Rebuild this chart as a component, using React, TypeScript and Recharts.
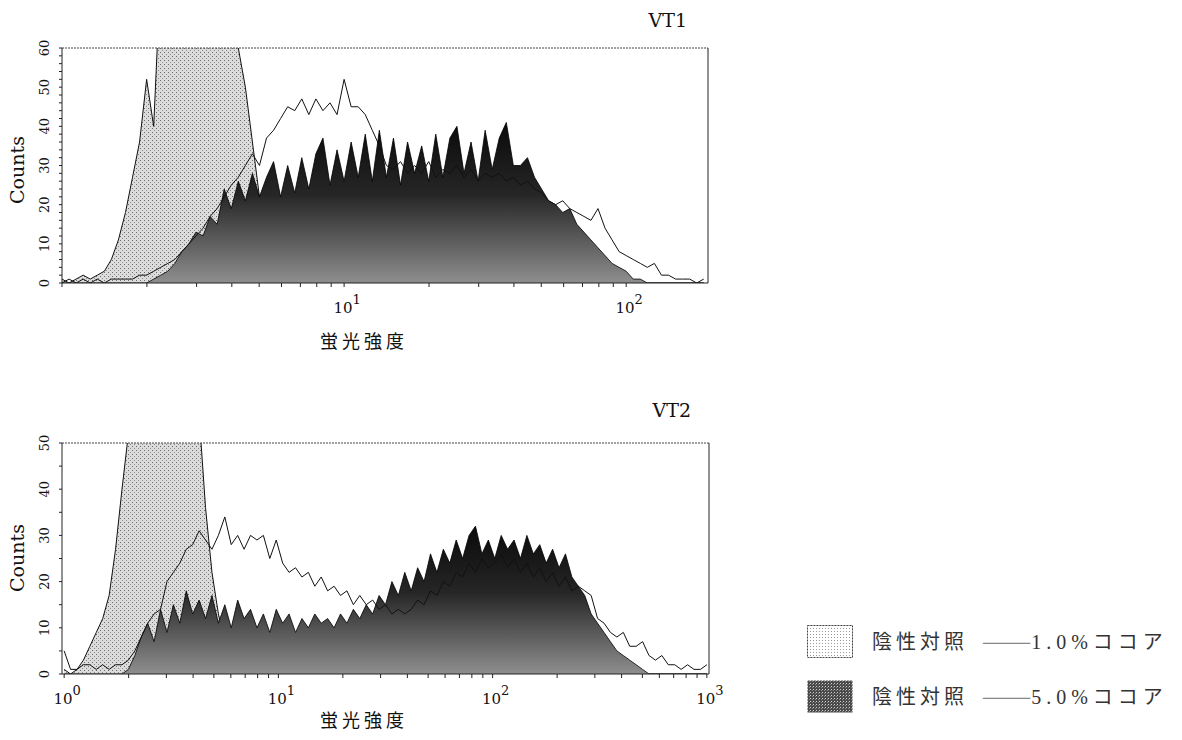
import React from 'react';
import { ComposedChart, Area, Line, XAxis, YAxis, ReferenceLine } from 'recharts';

// ---------- VT1 (log10 of fluorescence intensity per bin) ----------
const vt1Bins = [
  0, 0.025, 0.05, 0.075, 0.1, 0.125, 0.15, 0.175, 0.2, 0.225,
  0.25, 0.275, 0.3, 0.325, 0.35, 0.375, 0.4, 0.425, 0.45, 0.475,
  0.5, 0.525, 0.55, 0.575, 0.6, 0.625, 0.65, 0.675, 0.7, 0.725,
  0.75, 0.775, 0.8, 0.825, 0.85, 0.875, 0.9, 0.925, 0.95, 0.975,
  1, 1.025, 1.05, 1.075, 1.1, 1.125, 1.15, 1.175, 1.2, 1.225,
  1.25, 1.275, 1.3, 1.325, 1.35, 1.375, 1.4, 1.425, 1.45, 1.475,
  1.5, 1.525, 1.55, 1.575, 1.6, 1.625, 1.65, 1.675, 1.7, 1.725,
  1.75, 1.775, 1.8, 1.825, 1.85, 1.875, 1.9, 1.925, 1.95, 1.975,
  2, 2.025, 2.05, 2.075, 2.1, 2.125, 2.15, 2.175, 2.2, 2.225,
  2.25, 2.275,
];
const vt1Control = [
  1, 0, 1, 2, 1, 2, 3, 6, 11, 18,
  27, 36, 52, 40, 80, 88, 95, 101, 104, 100,
  97, 92, 86, 79, 72, 60, 50, 36, 22, 12,
  6, 3, 1, 1, 0, 0, 0, 0, 0, 0,
  0, 0, 0, 0, 0, 0, 0, 0, 0, 0,
  0, 0, 0, 0, 0, 0, 0, 0, 0, 0,
  0, 0, 0, 0, 0, 0, 0, 0, 0, 0,
  0, 0, 0, 0, 0, 0, 0, 0, 0, 0,
  0, 0, 0, 0, 0, 0, 0, 0, 0, 0,
  0, 0,
];
const vt1Cocoa1 = [
  0, 1, 0, 1, 0, 1, 0, 1, 1, 1,
  1, 2, 2, 3, 4, 5, 6, 8, 10, 12,
  14, 17, 19, 22, 25, 27, 30, 33, 30, 37,
  39, 42, 45, 44, 47, 43, 47, 44, 46, 43,
  52, 45, 45, 43, 39, 35, 30, 29, 31, 28,
  30, 28, 31, 27, 29, 28, 30, 27, 29, 26,
  28, 27, 28, 26, 27, 25, 26, 24, 23, 21,
  20, 21, 19, 18, 17, 16, 19, 14, 11, 8,
  7, 6, 5, 4, 5, 2, 2, 1, 1, 1,
  0, 1,
];
const vt1Cocoa5 = [
  0, 0, 0, 0, 0, 0, 0, 0, 0, 0,
  0, 0, 0, 1, 2, 3, 5, 8, 10, 13,
  12, 17, 15, 24, 19, 26, 21, 28, 22, 27,
  31, 22, 30, 23, 32, 24, 33, 37, 25, 34,
  26, 36, 27, 38, 26, 39, 27, 37, 25, 36,
  28, 35, 26, 38, 27, 37, 40, 28, 36, 26,
  39, 29, 37, 41, 30, 30, 32, 27, 24, 21,
  20, 18, 19, 15, 13, 11, 9, 7, 5, 4,
  3, 1, 1, 0, 0, 0, 0, 0, 0, 0,
  0, 0,
];

// ---------- VT2 ----------
const vt2Bins = [
  0, 0.03, 0.06, 0.09, 0.12, 0.15, 0.18, 0.21, 0.24, 0.27,
  0.3, 0.33, 0.36, 0.39, 0.42, 0.45, 0.48, 0.51, 0.54, 0.57,
  0.6, 0.63, 0.66, 0.69, 0.72, 0.75, 0.78, 0.81, 0.84, 0.87,
  0.9, 0.93, 0.96, 0.99, 1.02, 1.05, 1.08, 1.11, 1.14, 1.17,
  1.2, 1.23, 1.26, 1.29, 1.32, 1.35, 1.38, 1.41, 1.44, 1.47,
  1.5, 1.53, 1.56, 1.59, 1.62, 1.65, 1.68, 1.71, 1.74, 1.77,
  1.8, 1.83, 1.86, 1.89, 1.92, 1.95, 1.98, 2.01, 2.04, 2.07,
  2.1, 2.13, 2.16, 2.19, 2.22, 2.25, 2.28, 2.31, 2.34, 2.37,
  2.4, 2.43, 2.46, 2.49, 2.52, 2.55, 2.58, 2.61, 2.64, 2.67,
  2.7, 2.73, 2.76, 2.79, 2.82, 2.85, 2.88, 2.91, 2.94, 2.97,
  3.0,
];
const vt2Control = [
  1, 0, 1, 3, 6, 9, 12, 17, 27, 40,
  52, 70, 85, 95, 100, 102, 98, 94, 88, 80,
  70, 56, 36, 22, 13, 7, 3, 1, 0, 0,
  0, 0, 0, 0, 0, 0, 0, 0, 0, 0,
  0, 0, 0, 0, 0, 0, 0, 0, 0, 0,
  0, 0, 0, 0, 0, 0, 0, 0, 0, 0,
  0, 0, 0, 0, 0, 0, 0, 0, 0, 0,
  0, 0, 0, 0, 0, 0, 0, 0, 0, 0,
  0, 0, 0, 0, 0, 0, 0, 0, 0, 0,
  0, 0, 0, 0, 0, 0, 0, 0, 0, 0,
  0,
];
const vt2Cocoa1 = [
  5, 1, 1, 2, 2, 1, 2, 1, 2, 2,
  3, 5, 8, 11, 13, 14, 20, 22, 24, 27,
  28, 31, 29, 27, 30, 34, 28, 30, 27, 30,
  29, 30, 25, 29, 24, 22, 23, 21, 22, 19,
  21, 18, 19, 17, 18, 15, 17, 15, 16, 14,
  15, 13, 14, 13, 14, 16, 15, 18, 17, 20,
  19, 22, 21, 24, 22, 25, 23, 24, 26, 23,
  25, 22, 24, 21, 23, 20, 22, 19, 21, 18,
  19, 18, 17, 12, 11, 9, 8, 9, 6, 6,
  7, 4, 3, 4, 2, 2, 1, 2, 1, 1,
  2,
];
const vt2Cocoa5 = [
  0, 0, 0, 0, 0, 0, 0, 0, 0, 0,
  1, 4, 8, 11, 7, 14, 9, 15, 11, 18,
  13, 16, 12, 17, 11, 15, 10, 16, 12, 14,
  10, 13, 9, 14, 11, 13, 9, 12, 10, 13,
  11, 12, 10, 13, 11, 14, 12, 15, 13, 17,
  15, 20, 17, 22, 18, 23, 20, 26, 22, 27,
  24, 29, 25, 30, 32, 26, 29, 25, 30, 27,
  29, 25, 30, 26, 28, 24, 27, 23, 26, 21,
  19, 17, 13, 11, 9, 7, 5, 4, 3, 2,
  1, 0, 0, 0, 0, 0, 0, 0, 0, 0,
  0,
];

// ---------- axis ticks ----------
const vt1IntensityTicks = [1, 2, 3, 4, 5, 6, 7, 8, 9, 10, 20, 30, 40, 50, 60, 70, 80, 90, 100];
const vt2IntensityTicks = [
  1, 2, 3, 4, 5, 6, 7, 8, 9, 10, 20, 30, 40, 50, 60, 70, 80, 90,
  100, 200, 300, 400, 500, 600, 700, 800, 900, 1000,
];
const vt1LabelledDecades = [1, 2];
const vt2LabelledDecades = [0, 1, 2, 3];
const vt1CountTicks = [0, 2, 4, 6, 8, 10, 12, 14, 16, 18, 20, 22, 24, 26, 28, 30, 32, 34, 36, 38, 40, 42, 44, 46, 48, 50, 52, 54, 56, 58, 60];
const vt2CountTicks = [0, 5, 10, 15, 20, 25, 30, 35, 40, 45, 50];

const SERIF = "'DejaVu Serif', 'Liberation Serif', serif";
const CJK = "'Noto Sans CJK JP', sans-serif";

const CHART_W = 760;

const buildRows = (bins: number[], control: number[], c1: number[], c5: number[]) =>
  bins.map((x, i) => ({ x, control: control[i], cocoa1: c1[i], cocoa5: c5[i] }));

const vt1Rows = buildRows(vt1Bins, vt1Control, vt1Cocoa1, vt1Cocoa5);
const vt2Rows = buildRows(vt2Bins, vt2Control, vt2Cocoa1, vt2Cocoa5);

const LogTick = (props: any) => {
  const { x, y, payload, decades } = props;
  const v = payload.value;
  const e = Math.round(v);
  if (Math.abs(v - e) > 1e-6 || !decades.includes(e)) return null;
  return (
    <text x={x + 3} y={y + 24} textAnchor="middle" fontFamily={SERIF} fontSize={15} fill="#111">
      <tspan>10</tspan>
      <tspan dy={-9} fontSize={13}>{e}</tspan>
    </text>
  );
};

const CountTick = (props: any) => {
  const { x, y, payload } = props;
  if (payload.value % 10 !== 0) return null;
  return (
    <text
      transform={`translate(${x - 13},${y}) rotate(-90)`}
      textAnchor="middle"
      dominantBaseline="central"
      fontFamily={SERIF}
      fontSize={13}
      fill="#111"
    >
      {payload.value}
    </text>
  );
};

const AxisCaption = (props: any) => {
  const { px, py, caption, vertical, size, spacing, family } = props;
  return (
    <text
      x={px}
      y={py}
      textAnchor="middle"
      dominantBaseline={vertical ? 'central' : 'auto'}
      transform={vertical ? `rotate(-90 ${px} ${py})` : undefined}
      fontFamily={family}
      fontSize={size}
      letterSpacing={spacing}
      fill="#111"
    >
      {caption}
    </text>
  );
};

type PanelProps = {
  id: string;
  rows: any[];
  top: number;
  height: number;
  marginTop: number;
  plotRight: number;
  xAxisHeight: number;
  xDomain: [number, number];
  intensityTicks: number[];
  decades: number[];
  yMax: number;
  countTicks: number[];
  countsY: number;
  xLabelY: number;
};

const Panel = (p: PanelProps) => (
  <div style={{ position: 'absolute', left: 0, top: p.top, width: CHART_W, height: p.height }}>
    <ComposedChart
      width={CHART_W}
      height={p.height}
      data={p.rows}
      margin={{ top: p.marginTop, right: CHART_W - p.plotRight, bottom: 0, left: 0 }}
    >
      <defs>
        <pattern id={`${p.id}Stipple`} width="4" height="4" patternUnits="userSpaceOnUse">
          <rect width="4" height="4" fill="#dcdcdc" />
          <rect x="0" y="0" width="1" height="1" fill="#6a6a6a" />
          <rect x="2" y="2" width="1" height="1" fill="#8a8a8a" />
        </pattern>
        <linearGradient id={`${p.id}Dark`} x1="0" y1="0" x2="0" y2="1">
          <stop offset="0" stopColor="#0a0a0a" />
          <stop offset="0.45" stopColor="#262626" />
          <stop offset="1" stopColor="#8e8e8e" />
        </linearGradient>
      </defs>
      <XAxis
        dataKey="x"
        type="number"
        domain={p.xDomain}
        allowDataOverflow
        ticks={p.intensityTicks.map((v) => Math.log10(v))}
        interval={0}
        tickSize={4}
        tickMargin={2}
        height={p.xAxisHeight}
        stroke="#222"
        tickLine={{ stroke: '#222' }}
        tick={<LogTick decades={p.decades} />}
        label={<AxisCaption px={364} py={p.xLabelY} caption="蛍光強度" size={18} spacing={4} family={CJK} />}
      />
      <YAxis
        type="number"
        domain={[0, p.yMax]}
        allowDataOverflow
        ticks={p.countTicks}
        interval={0}
        width={62}
        tickSize={3}
        tickMargin={2}
        stroke="#222"
        tickLine={{ stroke: '#222' }}
        tick={<CountTick />}
        label={<AxisCaption px={17} py={p.countsY} caption="Counts" vertical size={19} spacing={0} family={SERIF} />}
      />
      <Area
        type="linear"
        dataKey="control"
        name="陰性対照"
        stroke="#111"
        strokeWidth={1}
        fill={`url(#${p.id}Stipple)`}
        fillOpacity={1}
        dot={false}
        activeDot={false}
        isAnimationActive={false}
      />
      <Area
        type="linear"
        dataKey="cocoa5"
        name="5.0%ココア"
        stroke="#000"
        strokeWidth={0.8}
        fill={`url(#${p.id}Dark)`}
        fillOpacity={1}
        dot={false}
        activeDot={false}
        isAnimationActive={false}
      />
      <Line
        type="linear"
        dataKey="cocoa1"
        name="1.0%ココア"
        stroke="#111"
        strokeWidth={1}
        dot={false}
        activeDot={false}
        isAnimationActive={false}
      />
      <ReferenceLine y={p.yMax} stroke="#444" strokeDasharray="2 1" />
      <ReferenceLine x={p.xDomain[1]} stroke="#222" />
    </ComposedChart>
  </div>
);

const legendText: React.CSSProperties = {
  position: 'absolute',
  fontFamily: CJK,
  fontSize: 20,
  lineHeight: '24px',
  color: '#333',
  whiteSpace: 'nowrap',
};

const LegendRow = ({ top, dark, label }: { top: number; dark: boolean; label: string }) => (
  <>
    <svg style={{ position: 'absolute', left: 807, top: top - 16 }} width={46} height={33}>
      <defs>
        <pattern id={dark ? 'lgDark' : 'lgLight'} width="3" height="3" patternUnits="userSpaceOnUse">
          <rect width="3" height="3" fill={dark ? '#4a4a4a' : '#ffffff'} />
          <rect x="0" y="0" width="1" height="1" fill={dark ? '#d0d0d0' : '#9a9a9a'} />
          {dark ? <rect x="2" y="1" width="1" height="1" fill="#8a8a8a" /> : null}
        </pattern>
      </defs>
      <rect
        x={0.5}
        y={0.5}
        width={45}
        height={32}
        fill={`url(#${dark ? 'lgDark' : 'lgLight'})`}
        stroke={dark ? 'none' : '#444'}
        strokeDasharray="2 1"
      />
    </svg>
    <div style={{ ...legendText, left: 872, top: top - 12, letterSpacing: 4 }}>陰性対照</div>
    <div style={{ ...legendText, left: 982, top: top - 12 }}>
      <span style={{ color: '#888', letterSpacing: 0 }}>———</span>
      <span style={{ fontFamily: "'Liberation Serif', 'Noto Sans CJK JP', serif", letterSpacing: 5 }}>{label}</span>
    </div>
  </>
);

const titleStyle: React.CSSProperties = {
  position: 'absolute',
  fontFamily: SERIF,
  fontSize: 19,
  lineHeight: '19px',
  color: '#111',
  textAlign: 'right',
  whiteSpace: 'nowrap',
};

export default function App() {
  return (
    <div style={{ position: 'absolute', left: 0, top: 0, width: 1182, height: 740, background: '#fff', overflow: 'hidden' }}>
      <div style={{ ...titleStyle, left: 600, top: 11, width: 87 }}>VT1</div>
      <Panel
        id="vt1"
        rows={vt1Rows}
        top={0}
        height={360}
        marginTop={48}
        plotRight={708}
        xAxisHeight={77}
        xDomain={[0, 2.29]}
        intensityTicks={vt1IntensityTicks}
        decades={vt1LabelledDecades}
        yMax={60}
        countTicks={vt1CountTicks}
        countsY={170}
        xLabelY={348}
      />
      <div style={{ ...titleStyle, left: 600, top: 401, width: 91 }}>VT2</div>
      <Panel
        id="vt2"
        rows={vt2Rows}
        top={390}
        height={350}
        marginTop={53}
        plotRight={709}
        xAxisHeight={66}
        xDomain={[-0.01, 3.01]}
        intensityTicks={vt2IntensityTicks}
        decades={vt2LabelledDecades}
        yMax={50}
        countTicks={vt2CountTicks}
        countsY={168}
        xLabelY={337}
      />
      <LegendRow top={641} dark={false} label="1.0%ココア" />
      <LegendRow top={696} dark label="5.0%ココア" />
    </div>
  );
}
